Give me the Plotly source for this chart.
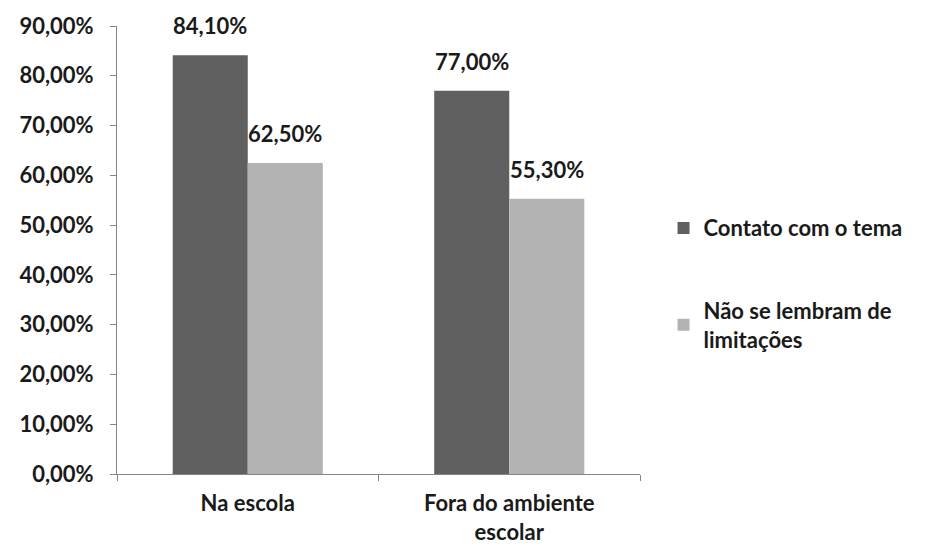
import plotly.graph_objects as go

categories = ["Na escola", "Fora do ambiente<br>escolar"]
contato = [0.841, 0.770]
nao_lembram = [0.625, 0.553]
series_names = ["Contato com o tema", "Não se lembram de<br>limitações"]
colors = ["#606060", "#b3b3b3"]

FONT = "Lato"
FS = 22
BARGAP = 0.426

fig = go.Figure()
all_series = [(series_names[0], contato, colors[0], "a"),
              (series_names[1], nao_lembram, colors[1], "b")]
for name, vals, col, grp in all_series:
    fig.add_trace(go.Bar(
        x=categories, y=vals, name=name, marker=dict(color=col, line=dict(width=0)),
        legendgroup=grp,
    ))

# data labels above bars
bw = (1 - BARGAP) / 2
for s, (name, vals, col, grp) in enumerate(all_series):
    for i, v in enumerate(vals):
        fig.add_annotation(
            x=i + (s - 0.5) * bw, y=v, xref="x", yref="y",
            text=f"{v*100:.2f}%".replace(".", ","), showarrow=False,
            yanchor="bottom", yshift=14,
            font=dict(family=FONT, size=FS, color="#1a1a1a", weight="bold"),
        )

fig.update_layout(
    width=934, height=550,
    separators=",.",
    barmode="group",
    bargap=BARGAP, bargroupgap=0,
    plot_bgcolor="white", paper_bgcolor="white",
    margin=dict(l=109, r=302, t=18, b=84),
    font=dict(family=FONT, size=FS, color="#1a1a1a", weight="bold"),
    legend=dict(x=1.045, y=0.425, xanchor="left", yanchor="middle",
                font=dict(family=FONT, size=FS, color="#1a1a1a", weight="bold"),
                traceorder="grouped", tracegroupgap=51, itemwidth=30),
    yaxis=dict(range=[0, 0.9], dtick=0.1, tickformat=".2%", showgrid=False,
               showline=True, linecolor="#868686", linewidth=1,
               ticks="outside", ticklen=6, tickcolor="#868686", automargin=False,
               ticklabelstandoff=12,
               tickfont=dict(family=FONT, size=FS, weight="bold"), zeroline=False),
    xaxis=dict(showline=True, linecolor="#868686", linewidth=1,
               ticks="outside", ticklen=6, tickcolor="#868686", tickson="boundaries",
               automargin=False, ticklabelstandoff=10,
               tickfont=dict(family=FONT, size=FS, weight="bold")),
)

fig.write_html("out.html")
